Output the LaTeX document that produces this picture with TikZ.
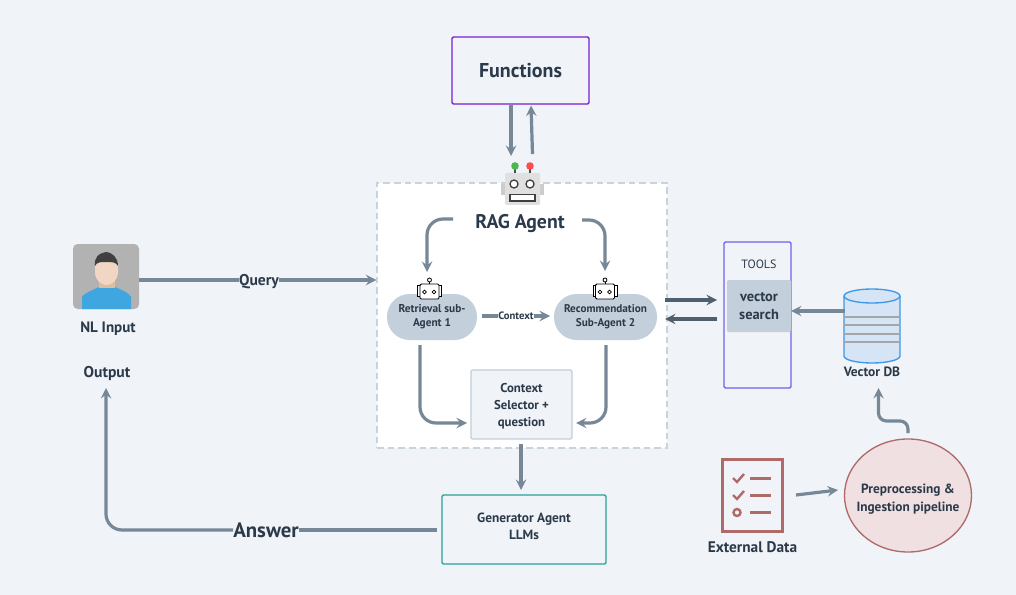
\documentclass[tikz,border=0pt]{standalone}
\usepackage{fontspec}
\setmainfont{PT Sans}
\usepackage{xcolor}
\usetikzlibrary{shapes.geometric, arrows}
\definecolor{pagebg}{HTML}{F0F3F7}
\definecolor{ink}{HTML}{2B3A4A}
\definecolor{wire}{HTML}{768797}
\definecolor{darkwire}{HTML}{4F5F6E}
\definecolor{pill}{HTML}{C3CFDA}
\definecolor{dashline}{HTML}{C8D4DC}
\definecolor{violet}{HTML}{7A1FD0}
\definecolor{toolline}{HTML}{7360F2}
\definecolor{teal}{HTML}{2AA198}
\definecolor{brick}{HTML}{B06A6A}
\definecolor{blush}{HTML}{F0E0E1}
\definecolor{shirt}{HTML}{3FA6E0}
\definecolor{skin}{HTML}{F1D7C3}
\definecolor{neck}{HTML}{DDBE9F}
\definecolor{dbfill}{HTML}{D5E5F5}
\definecolor{dbline}{HTML}{3F97E6}

\tikzset{
  smallbot/.pic={
    \draw [black, line width=.6pt, fill=white] (-12,-7) rectangle (-9,4);
    \draw [black, line width=.6pt, fill=white] (9,-7) rectangle (12,4);
    \draw [black, line width=.6pt] (0,-12) -- (0,-8);
    \draw [black, line width=.6pt, fill=white] (0,-12) circle (2);
    \draw [black, line width=.7pt, fill=white, rounded corners=1] (-9.5,-8) rectangle (9.5,7);
    \draw [black, line width=.5pt] (-5,0) circle (1.8);
    \draw [black, line width=.5pt] (4.5,0) circle (1.8);
  }
}

\begin{document}
\begin{tikzpicture}[x=0.75pt, y=-0.75pt, font=\bfseries, text=ink]
\tikzstyle{caption} = [inner sep=0pt, align=center]
\tikzstyle{agent} = [rectangle, rounded corners=17pt, fill=pill, minimum height=34.5pt, align=center, inner sep=0pt, font=\bfseries\fontsize{8.5pt}{10.5pt}\selectfont]
\tikzstyle{outbox} = [rectangle, rounded corners=1pt, align=center, inner sep=0pt]
\tikzstyle{arrow} = [line width=2.4pt, wire, ->, >=stealth, rounded corners=12pt]
\tikzstyle{plain} = [line width=2.4pt, wire, rounded corners=12pt]
\tikzstyle{darrow} = [line width=2.4pt, darkwire, ->, >=stealth]

\useasboundingbox [fill=pagebg] (0,0) rectangle (1016,595);

% main containers
\node (frame) [rectangle, draw=dashline, fill=white, dash pattern=on 5pt off 3pt, line width=1pt, minimum width=217.5pt, minimum height=198.75pt, inner sep=0pt] at (522,315.5) {};
\node (funcs) [outbox, draw=violet, line width=1.1pt, minimum width=102.75pt, minimum height=50.25pt, font=\bfseries\fontsize{15pt}{17pt}\selectfont] at (520.5,70.5) {Functions};
\node (tools) [outbox, draw=toolline, line width=1.1pt, minimum width=50.25pt, minimum height=109.5pt] at (757.5,315) {};
\node (toolstitle) [caption, font=\mdseries\fontsize{9pt}{11pt}\selectfont] at (759,264) {TOOLS};
\node (vsearch) [outbox, fill=pill, minimum width=48pt, minimum height=39pt, font=\bfseries\fontsize{10.8pt}{13pt}\selectfont] at (759,306) {vector\\search};

% user picture
\node (user) [rectangle, rounded corners=3.5pt, fill=black!30, minimum width=49.5pt, minimum height=48.75pt, inner sep=0pt] at (106,276.5) {};
\fill [shirt] (82,309) -- (82,297) .. controls (84,293) and (95,289) .. (99,287) -- (115,287) .. controls (120,289) and (129,293) .. (131,297) -- (131,309) -- cycle;
\fill [neck] (99,278) rectangle (115,288);
\fill [skin] (95,262) -- (118,262) -- (118,272) .. controls (118,280) and (112,285) .. (106.5,285) .. controls (101,285) and (95,280) .. (95,272) -- cycle;
\fill [black!75] (95,266) .. controls (94,258) and (98,253) .. (107,252) .. controls (112,253) and (118,257) .. (118,266) .. controls (116,262) and (112,262) .. (106,262) .. controls (100,262) and (97,262) .. (95,266) -- cycle;
\node (nlinput) [caption, font=\bfseries\fontsize{11.3pt}{13pt}\selectfont] at (108,329) {NL Input};
\node (output) [caption, font=\bfseries\fontsize{11.7pt}{13pt}\selectfont] at (107,373) {Output};

% big robot
\fill [black!20] (501,184) rectangle (544,195);
\fill [black!12, rounded corners=1pt] (505,173) rectangle (540,205);
\draw [black!70, line width=.8pt] (515,166) -- (515,173);
\draw [black!70, line width=.8pt] (530,166) -- (530,173);
\fill [green!60!black!70!white] (515,166) circle (3.8);
\fill [red!70!white] (530,166) circle (3.8);
\draw [black!75, line width=1pt, fill=white] (514,184) circle (4);
\draw [black!75, line width=1pt, fill=white] (530,184) circle (4);
\draw [black!75, line width=1pt, fill=white] (510,194.5) rectangle (535,201);
\node (rag) [caption, font=\bfseries\fontsize{14.8pt}{17pt}\selectfont] at (520,224) {RAG Agent};

% sub agents
\node (retr) [agent, minimum width=67.5pt] at (432,317) {Retrieval sub-\\Agent 1};
\node (recom) [agent, minimum width=77.25pt, font=\bfseries\fontsize{8.4pt}{10.5pt}\selectfont] at (605.5,317) {Recommendation\\Sub-Agent 2};
\pic at (429.5,292) {smallbot};
\pic at (605,292) {smallbot};
\node (ctx) [caption, font=\bfseries\fontsize{8pt}{9pt}\selectfont] at (516,316) {Context};
\node (selector) [outbox, draw=pill, fill=pagebg, line width=1pt, minimum width=75.75pt, minimum height=51.75pt, font=\bfseries\fontsize{9.6pt}{12.75pt}\selectfont] at (521.5,404.5) {\rule{0pt}{10pt}Context\\Selector +\\question};
\node (gen) [outbox, draw=teal, line width=1.1pt, minimum width=123pt, minimum height=51.75pt, font=\bfseries\fontsize{10pt}{12.75pt}\selectfont] at (524,529.5) {Generator Agent\\LLMs\rule[-5pt]{0pt}{5pt}};

% labels on long wires
\node (query) [caption, font=\bfseries\fontsize{11.7pt}{14pt}\selectfont] at (259,280) {\rule{0pt}{11.5pt}Query};
\node (answer) [caption, font=\bfseries\fontsize{15.6pt}{18pt}\selectfont] at (266,530) {Answer};

% vector db
\node (db) [rectangle, minimum width=42pt, minimum height=54pt, inner sep=0pt] at (872,326) {};
\draw [dbline, line width=1pt, fill=dbfill] (844,296) -- (844,356) arc [start angle=180, end angle=360, x radius=28, y radius=-7] -- (900,296);
\draw [dbline, line width=1pt, fill=dbfill] (872,296) ellipse [x radius=28, y radius=7];
\foreach \yy in {317,325,334,342}
  \draw [black!35, line width=1pt] (844,\yy) -- (900,\yy);
\node (dblabel) [caption, font=\bfseries\fontsize{10.1pt}{12pt}\selectfont] at (872,372) {Vector DB};

% external data and pipeline
\node (pipeline) [ellipse, draw=brick, fill=blush, line width=1pt, minimum width=95.25pt, minimum height=84.75pt, inner xsep=-6pt, inner ysep=0pt, align=center, font=\bfseries\fontsize{10pt}{13.5pt}\selectfont] at (908,495.5) {\rule{0pt}{12pt}Preprocessing \&\\Ingestion pipeline};
\node (extdata) [rectangle, draw=brick, line width=2pt, minimum width=45pt, minimum height=54pt, inner sep=0pt] at (752.5,495.5) {};
\draw [brick, line width=1.8pt] (733,478) -- (737,482) -- (744,474);
\draw [brick, line width=1.8pt] (733,495) -- (737,499) -- (744,491);
\draw [brick, line width=1.8pt] (737,512.5) circle (3.5);
\foreach \yy in {478.5,495.5,512.5}
  \draw [brick, line width=1.8pt] (750,\yy) -- (771,\yy);
\node (extlabel) [caption, font=\bfseries\fontsize{11.5pt}{13pt}\selectfont] at (752.5,547) {External Data};

% free wire ends
\coordinate (funcsout) at (511,105);
\coordinate (robotin) at (511,156);
\coordinate (robotout) at (532.5,154);
\coordinate (funcsin) at (531,105.5);
\coordinate (ragl) at (453,219);
\coordinate (ragr) at (582,220);
\coordinate (retrin) at (427,272);
\coordinate (recomin) at (605,271);
\coordinate (ctxout) at (482,316);
\coordinate (ctxend) at (550,316);
\coordinate (retrout) at (420,345);
\coordinate (recomout) at (606,345);
\coordinate (selin1) at (467,423);
\coordinate (selin2) at (576,423);
\coordinate (selout) at (521,444);
\coordinate (genin) at (521,490);
\coordinate (genout) at (437,530);
\coordinate (outin) at (106,388);
\coordinate (agentr1) at (665,300);
\coordinate (toolsl1) at (717,300);
\coordinate (toolsl2) at (717,319);
\coordinate (agentr2) at (665,319);
\coordinate (dbout) at (845,311);
\coordinate (vsin) at (791,311);
\coordinate (pipeout) at (908,433);
\coordinate (pipea) at (908,421);
\coordinate (pipeb) at (878.5,421);
\coordinate (dbin) at (878.5,388);
\coordinate (extout) at (796,495);
\coordinate (pipein) at (838,490);

\draw [arrow] (funcsout) -- (robotin);
\draw [arrow] (robotout) -- (funcsin);
\draw [plain] (user.east |- query.west) -- (query.west);
\draw [arrow] (query.east) -- (frame.west |- query.east);
\draw [arrow] (ragl) -| (retrin);
\draw [arrow] (ragr) -| (recomin);
\draw [plain] (ctxout) -- (ctx.west);
\draw [arrow] (ctx.east) -- (ctxend);
\draw [arrow] (retrout) |- (selin1);
\draw [arrow] (recomout) |- (selin2);
\draw [arrow] (selout) -- (genin);
\draw [plain] (genout) -- (answer.east);
\draw [arrow] (answer.west) -| (outin);
\draw [darrow] (agentr1) -- (toolsl1);
\draw [darrow] (toolsl2) -- (agentr2);
\draw [arrow] (dbout) -- (vsin);
\draw [arrow, rounded corners=6pt] (pipeout) -- (pipea) -- (pipeb) -- (dbin);
\draw [arrow] (extout) -- (pipein);
\end{tikzpicture}
\end{document}
